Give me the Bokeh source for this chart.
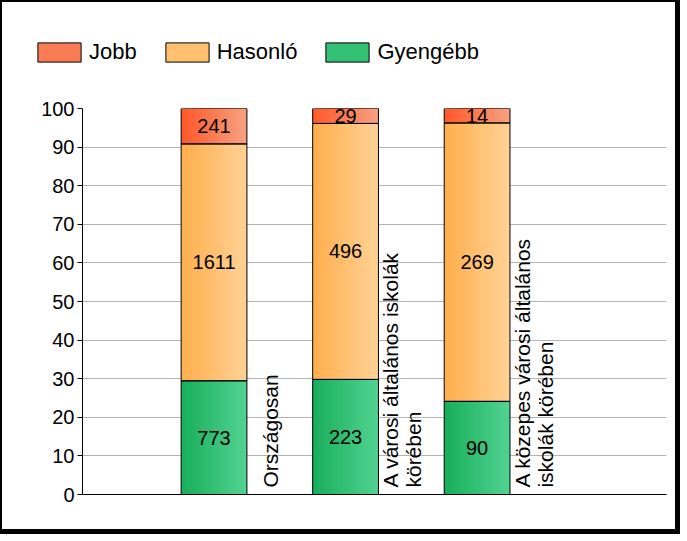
import numpy as np
from bokeh.plotting import figure
from bokeh.layouts import column
from bokeh.models import ColumnDataSource, Legend, LegendItem, FixedTicker, Range1d
from bokeh.embed import file_html
from bokeh.resources import INLINE
from bokeh.core.properties import value

# ---- data ----
categories = ["Országosan",
              "A városi általános iskolák\nkörében",
              "A közepes városi általános\niskolák körében"]
series_names = ["Gyengébb", "Hasonló", "Jobb"]
gyengebb = [773, 223, 90]
hasonlo = [1611, 496, 269]
jobb = [241, 29, 14]
y_ticks = [0, 10, 20, 30, 40, 50, 60, 70, 80, 90, 100]
legend_order = ["Jobb", "Hasonló", "Gyengébb"]

# gradient colors (left, right) per series
grad_colors = {
    "Gyengébb": ((0x18, 0xAE, 0x5B), (0x52, 0xD3, 0x91)),
    "Hasonló": ((0xFF, 0xAE, 0x4C), (0xFF, 0xD2, 0x96)),
    "Jobb": ((0xFF, 0x58, 0x28), (0xF6, 0xA2, 0x82)),
}
legend_colors = {"Gyengébb": "#33C275", "Hasonló": "#FFC070", "Jobb": "#FA7C55"}

FONT = value("Liberation Sans")

counts = np.array([gyengebb, hasonlo, jobb], dtype=float)
totals = counts.sum(axis=0)
pcts = counts / totals * 100.0
xs = np.arange(1, len(categories) + 1, dtype=float)
bar_w = 0.5

# ---- legend strip (top part) ----
lg = figure(width=680, height=80, output_backend="svg", toolbar_location=None,
            x_range=Range1d(0, 1), y_range=Range1d(0, 1),
            x_axis_location=None, y_axis_location=None,
            min_border=0, min_border_left=0, min_border_right=0,
            min_border_top=0, min_border_bottom=0, frame_align=False)
lg.styles = {"border-style": "solid", "border-color": "black",
             "border-width": "2px 5px 0px 2px"}
lg.outline_line_color = None
lg.grid.visible = False
items = []
for name in legend_order:
    # proxy glyphs placed outside the visible range; only used for the legend
    r = lg.quad(left=[2], right=[3], bottom=[2], top=[3],
                fill_color=legend_colors[name], line_color="black", line_width=1)
    items.append(LegendItem(label=name, renderers=[r]))
legend = Legend(items=items, orientation="horizontal", location=(30, 17),
                glyph_width=54, glyph_height=24, label_height=24, label_standoff=3,
                spacing=23, padding=0, margin=0, border_line_alpha=0,
                background_fill_alpha=0, label_text_font="Liberation Sans",
                label_text_font_size="22px", label_text_color="black",
                label_text_baseline="middle")
lg.add_layout(legend)

# ---- main chart ----
p = figure(width=680, height=454, output_backend="svg", toolbar_location=None,
           x_range=Range1d(0, 4.44), y_range=Range1d(0, 100),
           min_border_left=80, min_border_right=16, min_border_top=28,
           min_border_bottom=40, frame_align=False)
p.styles = {"border-style": "solid", "border-color": "black",
            "border-width": "0px 5px 5px 2px"}
p.outline_line_color = None
p.xgrid.grid_line_color = None
p.ygrid.grid_line_color = "#B4B4B4"
p.ygrid.ticker = FixedTicker(ticks=y_ticks)

p.yaxis.ticker = FixedTicker(ticks=y_ticks)
p.yaxis.major_label_text_font_size = "20px"
p.yaxis.major_label_text_font = "Liberation Sans"
p.yaxis.major_label_text_color = "black"
p.yaxis.major_tick_out = 5
p.yaxis.major_tick_in = 0
p.yaxis.minor_tick_line_color = None
p.yaxis.major_label_standoff = 3
p.yaxis.axis_line_color = "black"
p.xaxis.ticker = FixedTicker(ticks=[])
p.xaxis.minor_tick_line_color = None
p.xaxis.major_tick_line_color = None
p.xaxis.axis_line_color = "black"

# gradient strips
N = 24
sl, sr, sb, st, sc = [], [], [], [], []
ol, orr, ob, ot = [], [], [], []
lx, ly, lt = [], [], []
bottoms = np.zeros(len(categories))
for si, name in enumerate(series_names):
    c0, c1 = grad_colors[name]
    for ci, x in enumerate(xs):
        b = bottoms[ci]
        t = b + pcts[si, ci]
        left = x - bar_w / 2
        right = x + bar_w / 2
        for k in range(N):
            f = (k + 0.5) / N
            col = tuple(int(round(c0[j] + (c1[j] - c0[j]) * f)) for j in range(3))
            sl.append(left + k * bar_w / N)
            sr.append(right)
            sb.append(b)
            st.append(t)
            sc.append("#%02X%02X%02X" % col)
        ol.append(left); orr.append(right); ob.append(b); ot.append(t)
        lx.append(x); ly.append((b + t) / 2); lt.append(str(int(counts[si, ci])))
    bottoms = bottoms + pcts[si]

p.quad(left="l", right="r", bottom="b", top="t", fill_color="c", line_color=None,
       source=ColumnDataSource(dict(l=sl, r=sr, b=sb, t=st, c=sc)))
p.quad(left=ol, right=orr, bottom=ob, top=ot, fill_alpha=0, line_color="black",
       line_width=1)

p.text(x=lx, y=ly, text=lt, text_align="center", text_baseline="middle",
       text_font=FONT, text_font_size="20px", text_color="black")

# category labels, rotated
p.text(x=list(xs + 0.43), y=[1.8] * len(xs), text=categories, angle=np.pi / 2,
       text_align="left", text_baseline="middle", text_font=FONT,
       text_font_size="21px", text_color="black", text_line_height=1.0)

layout = column(lg, p, spacing=0)
open("out.html", "w").write(file_html(layout, INLINE))
